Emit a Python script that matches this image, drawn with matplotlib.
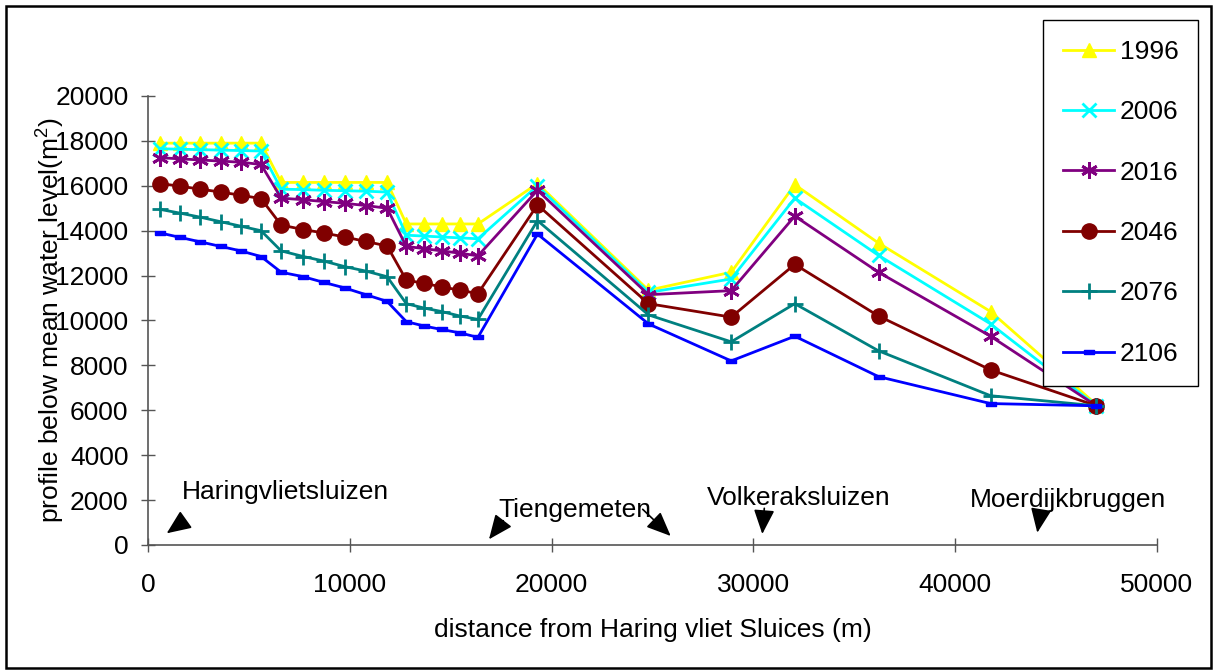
import matplotlib
matplotlib.use("Agg")
import matplotlib.pyplot as plt
from matplotlib.patches import Rectangle

plt.rcParams['font.family'] = ['Liberation Sans', 'DejaVu Sans']
plt.rcParams['mathtext.fontset'] = 'custom'
plt.rcParams['mathtext.rm'] = 'Liberation Sans'
plt.rcParams['mathtext.it'] = 'Liberation Sans'

# ---- data ----
distance = [600, 1600, 2600, 3600, 4600, 5600,
            6600, 7700, 8700, 9750, 10800, 11850,
            12800, 13700, 14550, 15450, 16350,
            19300, 24800, 28900, 32050, 36200, 41750, 47000]

years = ['1996', '2006', '2016', '2046', '2076', '2106']

area_1996 = [17900, 17900, 17900, 17900, 17900, 17900,
             16150, 16150, 16150, 16150, 16150, 16150,
             14300, 14300, 14300, 14300, 14300,
             16100, 11350, 12150, 16050, 13450, 10400, 6250]
area_2006 = [17650, 17630, 17610, 17590, 17570, 17550,
             15850, 15830, 15800, 15780, 15760, 15720,
             13800, 13760, 13720, 13680, 13640,
             16000, 11250, 11850, 15450, 12900, 9850, 6200]
area_2016 = [17250, 17200, 17150, 17100, 17050, 16950,
             15450, 15380, 15300, 15220, 15120, 15000,
             13300, 13200, 13100, 13000, 12880,
             15800, 11150, 11330, 14650, 12150, 9300, 6200]
area_2046 = [16100, 15980, 15850, 15720, 15580, 15430,
             14250, 14050, 13900, 13720, 13520, 13320,
             11800, 11650, 11500, 11350, 11200,
             15150, 10750, 10150, 12500, 10200, 7800, 6200]
area_2076 = [14950, 14780, 14600, 14400, 14200, 14000,
             13100, 12850, 12650, 12400, 12200, 11950,
             10750, 10550, 10400, 10200, 10050,
             14450, 10250, 9050, 10750, 8650, 6650, 6200]
area_2106 = [13900, 13700, 13500, 13300, 13100, 12850,
             12150, 11950, 11700, 11450, 11150, 10850,
             9950, 9750, 9600, 9450, 9250,
             13850, 9850, 8200, 9300, 7500, 6300, 6200]

series = [area_1996, area_2006, area_2016, area_2046, area_2076, area_2106]

x_ticks = [0, 10000, 20000, 30000, 40000, 50000]
y_ticks = [0, 2000, 4000, 6000, 8000, 10000, 12000, 14000, 16000, 18000, 20000]

# annotation labels (location names) with text anchor and arrow tail/tip in data units
place_names = ['Haringvlietsluizen', 'Tiengemeten', 'Volkeraksluizen', 'Moerdijkbruggen']
place_text_xy = [(1700, 2040), (17360, 1260), (27716, 1780), (40733, 1680)]
arrow_tails = [(1784, 1069), (17607, 1082), (24514, 1590), (30540, 1635), (44237, 1483)]
arrow_tips = [(927, 521), (16898, 254), (25902, 401), (30441, 490), (44068, 548)]

# ---- styles ----
FS = 19
rect_marker = [(-1, -0.5), (1, -0.5), (1, 0.5), (-1, 0.5), (-1, -0.5)]
styles = [
    dict(color='#FFFF00', marker='^', markersize=10, markeredgewidth=1),
    dict(color='#00FFFF', marker='x', markersize=10, markeredgewidth=2),
    dict(color='#800080', marker=(6, 2, 0), markersize=12, markeredgewidth=2),
    dict(color='#800000', marker='o', markersize=11, markeredgewidth=1),
    dict(color='#008080', marker='+', markersize=12, markeredgewidth=2),
    dict(color='#0000FF', marker=rect_marker, markersize=7, markeredgewidth=1),
]

fig = plt.figure(figsize=(12.14, 6.71), dpi=100)
ax = fig.add_axes([148/1214, 1-545/671, (1157-148)/1214, (545-96)/671])

for yr, vals, st in zip(years, series, styles):
    ax.plot(distance, vals, label=yr, linewidth=2.0, clip_on=False, **st)

ax.set_xlim(0, 50000)
ax.set_ylim(0, 20000)
ax.set_xticks(x_ticks)
ax.set_yticks(y_ticks)
ax.set_xticklabels([str(v) for v in x_ticks])
ax.set_yticklabels([str(v) for v in y_ticks])

for s in ['top', 'right']:
    ax.spines[s].set_visible(False)
for s in ['left', 'bottom']:
    ax.spines[s].set_color('#555555')
    ax.spines[s].set_linewidth(1.2)

ax.tick_params(axis='both', direction='inout', length=10, width=1, color='#555555', labelsize=FS)
ax.tick_params(axis='y', pad=9)
ax.tick_params(axis='x', pad=15)

ax.set_xlabel('distance from Haring vliet Sluices (m)', fontsize=FS)
ax.xaxis.set_label_coords(0.5, -0.163)
ax.set_ylabel('profile below mean water level(m$^2$)', fontsize=FS)
ax.yaxis.set_label_coords(-0.080, 0.5)

for name, (tx, ty) in zip(place_names, place_text_xy):
    ax.text(tx, ty, name, fontsize=FS, ha='left', va='baseline')

for (x0, y0), (x1, y1) in zip(arrow_tails, arrow_tips):
    ax.annotate('', xy=(x1, y1), xytext=(x0, y0),
                arrowprops=dict(arrowstyle='-|>,head_length=0.75,head_width=0.32',
                                mutation_scale=20, color='black', lw=1.2,
                                shrinkA=0, shrinkB=0))

leg = ax.legend(loc='upper left', bbox_to_anchor=(1043/1214, 1-20/671),
                bbox_transform=fig.transFigure, borderaxespad=0,
                fontsize=FS, frameon=True, fancybox=False, framealpha=1,
                edgecolor='black', handlelength=1.95, handletextpad=0.2,
                borderpad=0.75, labelspacing=1.38)
leg.get_frame().set_linewidth(1.0)

fig.patches.append(Rectangle((6/1214, 1-668/671), (1211-6)/1214, (668-6)/671,
                             transform=fig.transFigure, fill=False,
                             edgecolor='black', linewidth=1.8))

fig.savefig('out.png', dpi=100)
